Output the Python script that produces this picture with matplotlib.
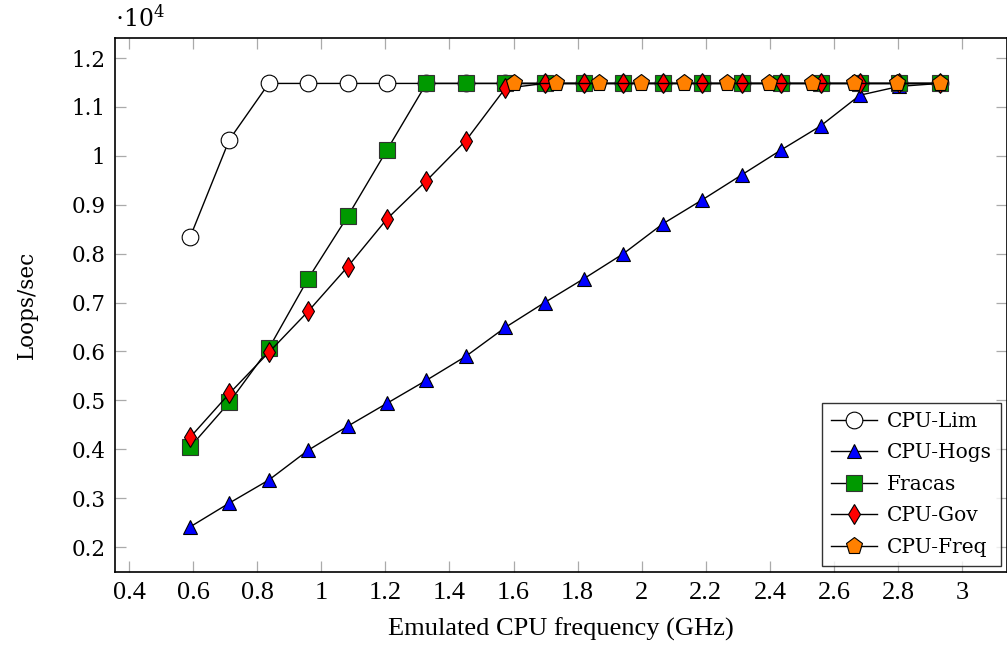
import matplotlib
matplotlib.use("Agg")
import matplotlib.pyplot as plt
from matplotlib.ticker import FuncFormatter

# emulated frequencies (GHz)
freq = [0.590, 0.713, 0.836, 0.959, 1.082, 1.205, 1.328, 1.451, 1.574, 1.697,
        1.820, 1.943, 2.066, 2.189, 2.312, 2.435, 2.558, 2.681, 2.804, 2.930]
freq_cpufreq = [1.600, 1.733, 1.866, 1.999, 2.132, 2.265, 2.398, 2.531, 2.664,
                2.797, 2.930]

# loops/sec (x 10^4)
cpu_lim = [0.833, 1.033, 1.148, 1.148, 1.148, 1.148, 1.148, 1.148, 1.148, 1.148,
           1.148, 1.148, 1.148, 1.148, 1.148, 1.148, 1.148, 1.148, 1.148, 1.148]
cpu_hogs = [0.241, 0.290, 0.337, 0.398, 0.447, 0.494, 0.541, 0.590, 0.649, 0.700,
            0.749, 0.800, 0.861, 0.910, 0.961, 1.012, 1.061, 1.124, 1.142, 1.148]
fracas = [0.404, 0.496, 0.606, 0.749, 0.876, 1.012, 1.148, 1.148, 1.148, 1.148,
          1.148, 1.148, 1.148, 1.148, 1.148, 1.148, 1.148, 1.148, 1.148, 1.148]
cpu_gov = [0.424, 0.514, 0.598, 0.682, 0.773, 0.871, 0.949, 1.031, 1.138, 1.148,
           1.148, 1.148, 1.148, 1.148, 1.148, 1.148, 1.148, 1.148, 1.148, 1.148]
cpu_freq = [1.148, 1.148, 1.148, 1.148, 1.148, 1.148, 1.148, 1.148, 1.148,
            1.148, 1.148]

plt.rcParams["font.family"] = "DejaVu Serif"
plt.rcParams["mathtext.fontset"] = "dejavuserif"

fig = plt.figure(figsize=(10.07, 6.51), dpi=100)
ax = fig.add_axes([0.1142, 0.1214, 0.8858, 0.8203])

lw = 1.0
mew = 0.8
ax.plot(freq, cpu_lim, color="black", lw=lw, marker="o", ms=12,
        mfc="white", mec="black", mew=mew, label="CPU-Lim", zorder=3)
ax.plot(freq, cpu_hogs, color="black", lw=lw, marker="^", ms=10.5,
        mfc="#0000ff", mec="black", mew=mew, label="CPU-Hogs", zorder=4)
ax.plot(freq, fracas, color="black", lw=lw, marker="s", ms=11.5,
        mfc="#009900", mec="#333333", mew=mew, label="Fracas", zorder=5)
ax.plot(freq, cpu_gov, color="black", lw=lw, marker="d", ms=10.5,
        mfc="#ff0000", mec="black", mew=mew, label="CPU-Gov", zorder=6)
ax.plot(freq_cpufreq, cpu_freq, color="black", lw=lw, marker="p", ms=12.5,
        mfc="#ff8000", mec="black", mew=mew, label="CPU-Freq", zorder=7)

ax.set_xlim(0.356, 3.14)
ax.set_ylim(0.149, 1.241)
ax.set_xticks([0.4 + 0.2 * i for i in range(14)])
ax.set_yticks([0.2 + 0.1 * i for i in range(11)])
fmt = FuncFormatter(lambda v, p: f"{round(v, 2):g}")
ax.xaxis.set_major_formatter(fmt)
ax.yaxis.set_major_formatter(fmt)

ax.tick_params(direction="in", length=8, width=0.9, color="#aaaaaa",
               top=True, right=True, labelsize=15.5, pad=7)
for t in ax.get_xticklabels():
    t.set_family("Liberation Serif")
    t.set_fontsize(19)
for s in ax.spines.values():
    s.set_linewidth(1.2)

ax.set_xlabel("Emulated CPU frequency (GHz)", family="Liberation Serif",
              fontsize=19, labelpad=10)
ax.set_ylabel("Loops/sec", fontsize=15.5, labelpad=24)
ax.text(0.0, 1.012, r"$\cdot10^4$", transform=ax.transAxes, fontsize=17,
        ha="left", va="bottom")

leg = ax.legend(loc="lower right", fontsize=14.5, frameon=True, fancybox=False,
                edgecolor="black", handlelength=2.3, borderaxespad=0.3,
                labelspacing=0.62, handletextpad=0.5, borderpad=0.45)
leg.get_frame().set_linewidth(1.0)

fig.savefig("out.png", dpi=100)
